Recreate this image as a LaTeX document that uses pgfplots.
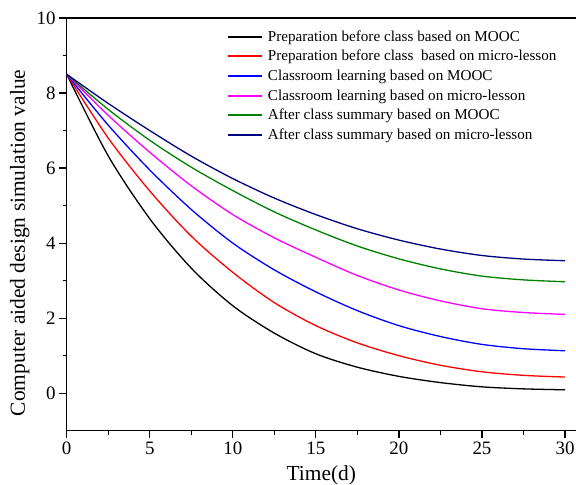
\documentclass[border=0pt]{standalone}
\usepackage{fontspec}
\setmainfont{Liberation Serif}
\usepackage{pgfplots}
\usepackage{pgfplotstable}
\pgfplotsset{compat=1.18}

\definecolor{navyc}{RGB}{0,0,128}
\definecolor{greenc}{RGB}{0,128,0}
\definecolor{magentac}{RGB}{255,0,255}
\definecolor{redc}{RGB}{255,0,0}
\definecolor{bluec}{RGB}{0,0,255}

% values
\pgfplotstableread{
x     k      r      b      m      g      n
0     8.500  8.500  8.500  8.500  8.500  8.500
2.5   6.325  6.800  7.144  7.405  7.564  7.723
5     4.650  5.390  5.950  6.420  6.740  7.000
7.5   3.332  4.185  4.896  5.528  6.023  6.319
10    2.330  3.220  4.000  4.760  5.400  5.720
12.5  1.600  2.413  3.286  4.140  4.832  5.200
15    1.050  1.800  2.700  3.620  4.350  4.760
17.5  0.692  1.340  2.200  3.137  3.922  4.382
20    0.448  1.000  1.800  2.750  3.580  4.080
22.5  0.282  0.744  1.510  2.460  3.313  3.842
25    0.169  0.570  1.300  2.250  3.120  3.670
27.5  0.115  0.475  1.185  2.150  3.020  3.575
30    0.090  0.430  1.130  2.100  2.970  3.530
}\curves

\begin{document}
\begin{tikzpicture}
\begin{axis}[
  scale only axis, width=509.3bp, height=412.7bp,
  xmin=0, xmax=30.66, ymin=-1, ymax=10,
  axis x line=box, axis y line*=left,
  xtick pos=bottom, ytick pos=left,
  xtick={0,5,...,30}, ytick={0,2,...,10},
  minor x tick num=1, minor y tick num=1,
  tick align=outside,
  major tick length=7.5bp, minor tick length=4bp,
  axis line style={line width=1.2bp},
  every tick/.style={black, line width=1.2bp},
  /pgf/number format/assume math mode=true,
  tick label style={font=\fontsize{19}{19}\selectfont},
  label style={font=\fontsize{21.5}{21.5}\selectfont},
  xlabel={Time(d)},
  ylabel={Computer aided design simulation value},
  xlabel style={at={(axis description cs:0.5,-0.121)}, anchor=base},
  ylabel style={at={(axis description cs:-0.092,0.455)}, anchor=center},
  legend style={draw=none, fill=none, at={(0.315,0.975)}, anchor=north west,
    font=\fontsize{15.2}{15.2}\selectfont, inner sep=0pt, row sep=3.6bp,
    cells={anchor=west}},
  legend image code/.code={\draw[#1,line width=2bp] (0bp,0bp) -- (34bp,0bp);
    \path (37bp,0bp);},
  every axis plot/.append style={line width=1.3bp, smooth},
]
\addplot[black]    table[x=x,y=k] {\curves};
\addlegendentry{Preparation before class based on MOOC}
\addplot[redc]     table[x=x,y=r] {\curves};
\addlegendentry{Preparation before class\ \ based on micro-lesson}
\addplot[bluec]    table[x=x,y=b] {\curves};
\addlegendentry{Classroom learning based on MOOC}
\addplot[magentac] table[x=x,y=m] {\curves};
\addlegendentry{Classroom learning based on micro-lesson}
\addplot[greenc]   table[x=x,y=g] {\curves};
\addlegendentry{After class summary based on MOOC}
\addplot[navyc]    table[x=x,y=n] {\curves};
\addlegendentry{After class summary based on micro-lesson}
\end{axis}
\pgfresetboundingbox
\path (-66.7bp,-54.3bp) rectangle (509.3bp,430.7bp);
\end{tikzpicture}
\end{document}
